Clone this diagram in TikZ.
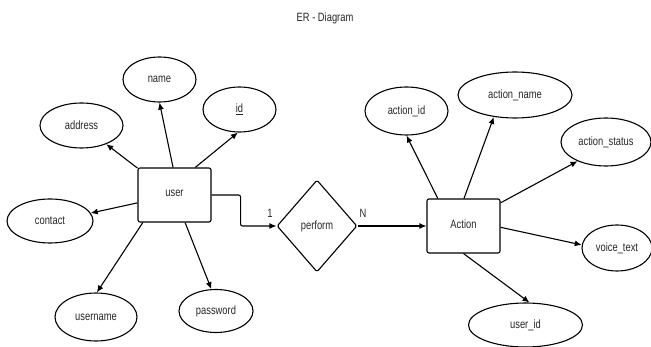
\documentclass[tikz,border=0pt]{standalone}
\usepackage{fontspec}
\setmainfont{Liberation Sans}[FakeStretch=0.78]
\usetikzlibrary{arrows.meta,shapes.geometric}
\begin{document}
\begin{tikzpicture}[x=1pt,y=-1pt,
  every node/.style={font=\fontsize{12}{14}\selectfont, text=black!85},
  attr/.style={ellipse, draw, line width=1.1pt, inner sep=0pt},
  entity/.style={rectangle, draw, line width=1.1pt, rounded corners=2pt, minimum width=73pt, minimum height=54pt, inner sep=0pt},
  rel/.style={diamond, draw, line width=1.1pt, rounded corners=1.5pt, minimum width=80pt, minimum height=92pt, inner sep=0pt},
  conn/.style={line width=1.1pt, -{Latex[length=7pt,width=6pt]}},
  lbl/.style={inner sep=0pt}
]
\useasboundingbox (0,0) rectangle (651,347);
\node[lbl] (title) at (325,18) {ER - Diagram};

\node[entity] (user) at (174.5,195) {};
\node[lbl] (usertext) at (174.5,193) {user};
\node[entity, minimum height=54pt] (action) at (463.5,226) {};
\node[lbl] (actiontext) at (463.5,224) {Action};
\node[rel] (perform) at (317,226) {perform};

\node[attr, minimum width=73pt, minimum height=45pt] (name) at (159.5,79.5) {name};
\node[attr, minimum width=73pt, minimum height=45pt] (id) at (239.5,109.5) {\underline{id}};
\node[attr, minimum width=83pt, minimum height=45pt] (address) at (81.5,125.5) {address};
\node[attr, minimum width=86pt, minimum height=44pt] (contact) at (50,221) {contact};
\node[attr, minimum width=82pt, minimum height=48pt] (username) at (96,317) {username};
\node[attr, minimum width=74pt, minimum height=43pt] (password) at (216,311) {password};

\node[attr, minimum width=83pt, minimum height=48pt] (actionid) at (406.5,111) {action\_id};
\node[attr, minimum width=114pt, minimum height=46pt] (actionname) at (515,95) {action\_name};
\node[attr, minimum width=90pt, minimum height=48pt] (actionstatus) at (606,142) {action\_status};
\node[attr, minimum width=70pt, minimum height=46pt] (voicetext) at (617,248) {voice\_text};
\node[attr, minimum width=114pt, minimum height=44pt] (userid) at (525.5,325) {user\_id};

\draw[conn] (user.144) -- (address.323);
\draw[conn] (user.93) -- (name.270);
\draw[conn] (user.53) -- (id.266);
\draw[conn] (user.192) -- (contact.11);
\draw[conn] (user.221) -- (username.88);
\draw[conn] (user.291) -- (password.102);

\draw[conn, rounded corners=2pt] (user.east) -- ++(29,0) |- (perform.west);
\draw[conn] (perform.east) -- (action.west);
\node[lbl] (one) at (270,213) {1};
\node[lbl] (n) at (363,213) {N};

\draw[conn] (action.133) -- (actionid.270);
\draw[conn] (action.89) -- (actionname.226);
\draw[conn] (action.32) -- (actionstatus.214);
\draw[conn] (action.358) -- (voicetext.175);
\draw[conn] (action.south) -- (userid.80);
\end{tikzpicture}
\end{document}
